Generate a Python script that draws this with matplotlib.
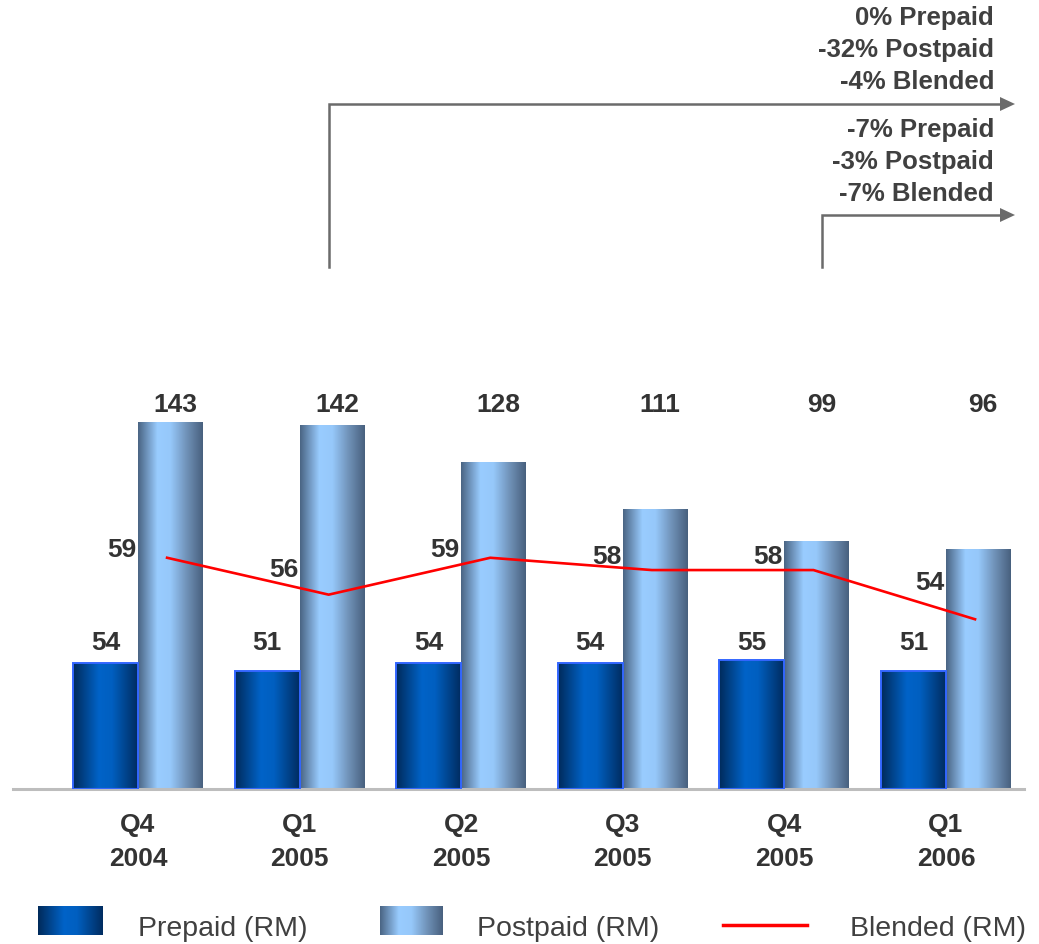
import matplotlib
matplotlib.use("Agg")
import matplotlib.pyplot as plt
import numpy as np
from matplotlib.colors import LinearSegmentedColormap
from matplotlib.patches import Polygon

plt.rcParams['font.family'] = ['Liberation Sans', 'DejaVu Sans']

# data
quarters = ["Q4\n2004", "Q1\n2005", "Q2\n2005", "Q3\n2005", "Q4\n2005", "Q1\n2006"]
prepaid = [54, 51, 54, 54, 55, 51]
postpaid = [143, 142, 128, 111, 99, 96]
blended = [59, 56, 59, 58, 58, 54]
notes_top = ["0% Prepaid", "-32% Postpaid", "-4% Blended"]
notes_bottom = ["-7% Prepaid", "-3% Postpaid", "-7% Blended"]

W, H = 1039, 944
fig = plt.figure(figsize=(W / 100, H / 100), dpi=100)

# bar axes: baseline at y=789px, top at 380px, spans x 13..1024px
ax = fig.add_axes([13 / W, (H - 789) / H, 1011 / W, 409 / H])
y0 = 7.5
ax.set_xlim(-0.7735, 5.483)
ax.set_ylim(y0, y0 + 409 / 2.71)
ax3 = ax.twinx()
ax3.set_ylim(40.2, 40.2 + 409 / 12.3)

prep_cmap = LinearSegmentedColormap.from_list(
    "prep", [(0, "#002a5a"), (0.4, "#0063c8"), (0.6, "#005fc0"), (1, "#002c60")])
post_cmap = LinearSegmentedColormap.from_list(
    "post", [(0, "#4a6483"), (0.3, "#99ccff"), (0.5, "#96c8fa"), (0.75, "#7092b8"), (1, "#48607e")])
grad = np.linspace(0, 1, 256).reshape(1, -1)

x = np.arange(len(quarters))
bw = 0.402


def gradient_bars(xs, vals, cmap, edge):
    heights = [v - y0 for v in vals]
    bars = ax.bar(xs, heights, bw, bottom=y0, color="none", edgecolor=edge,
                  linewidth=1.4 if edge != "none" else 0, zorder=3)
    for b in bars:
        im = ax.imshow(grad, cmap=cmap, aspect="auto", zorder=2,
                       extent=[b.get_x(), b.get_x() + b.get_width(), y0, y0 + b.get_height()])
        im.set_clip_path(b)
    return bars


gradient_bars(x - bw / 2, prepaid, prep_cmap, "#3366ff")
gradient_bars(x + bw / 2, postpaid, post_cmap, "none")
ax.set_xlim(-0.7735, 5.483)
ax.set_ylim(y0, y0 + 409 / 2.71)

ax3.plot(x + 0.18, blended, color="#ff0000", lw=1.9, zorder=5)

txt = dict(fontsize=19, fontweight="bold", color="#333333", ha="center", va="center")
tr = ax.get_xaxis_transform()
for i in x:
    ax.text(i - bw / 2, 0.356, str(prepaid[i]), transform=tr, **txt)
    ax.text(i + bw / 2 + 0.03, 0.94, str(postpaid[i]), transform=tr, **txt)
    # blended labels sit on a flatter scale than the line itself
    ly = (228 + 6.6 * (blended[i] - 57.33)) / 409
    ax.text(i - 0.1, ly, str(blended[i]), transform=tr, zorder=6, **txt)

ax.set_xticks(x)
ax.set_xticklabels(quarters, fontsize=19, fontweight="bold", color="#333333", linespacing=1.55)
ax.tick_params(axis="x", length=0, pad=17)
ax.set_yticks([])
ax3.set_yticks([])
for a in (ax, ax3):
    for s in ("top", "left", "right", "bottom"):
        a.spines[s].set_visible(False)
ax.spines["bottom"].set_visible(True)
ax.spines["bottom"].set_color("#bdbdbd")
ax.spines["bottom"].set_linewidth(2.2)

# overlay in pixel coordinates for arrows, notes and legend
ov = fig.add_axes([0, 0, 1, 1])
ov.axis("off")
ov.patch.set_alpha(0)

acol = "#6b6b6b"
for vx, hy in ((329, 104), (822, 215)):
    ov.plot([vx, vx, 1001], [267, hy, hy], color=acol, lw=1.8, solid_joinstyle="miter")
    ov.add_patch(Polygon([[1000, hy - 7], [1000, hy + 7], [1015, hy]], closed=True,
                         color=acol, lw=0))

ntxt = dict(fontsize=18.5, fontweight="bold", color="#404040", ha="right", va="center")
for k, s in enumerate(notes_top):
    ov.text(994, 18 + 32 * k, s, **ntxt)
for k, s in enumerate(notes_bottom):
    ov.text(994, 130 + 32 * k, s, **ntxt)

# legend
ov.imshow(grad, cmap=prep_cmap, aspect="auto", extent=[38, 103, 935, 906])
ov.imshow(grad, cmap=post_cmap, aspect="auto", extent=[380, 443, 935, 906])
ov.plot([723, 807], [925, 925], color="#ff0000", lw=2.5)
ov.set_xlim(0, W)
ov.set_ylim(H, 0)
ltxt = dict(fontsize=20.5, color="#404040", ha="left", va="center")
ov.text(138, 929, "Prepaid (RM)", **ltxt)
ov.text(477, 929, "Postpaid (RM)", **ltxt)
ov.text(850, 929, "Blended (RM)", **ltxt)

fig.savefig("out.png", dpi=100)
